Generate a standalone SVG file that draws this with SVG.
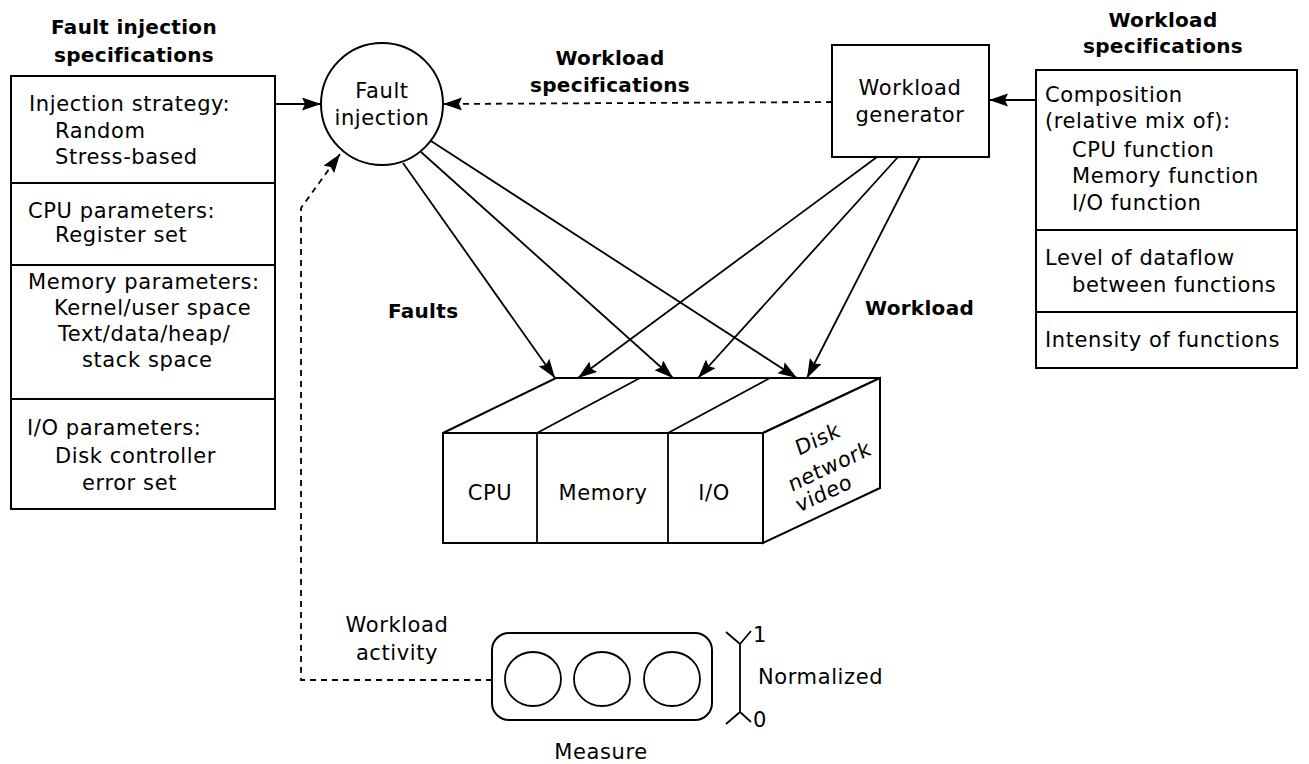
<svg xmlns="http://www.w3.org/2000/svg" width="1309" height="764" viewBox="0 0 1309 764">
<defs>
<style>
text{font-family:"DejaVu Sans","Liberation Sans",sans-serif;font-size:21px;letter-spacing:0.6px;fill:#000}
.b{font-weight:bold;font-size:20px;letter-spacing:0.3px}
.m{text-anchor:middle}
.box{fill:#fff;stroke:#000;stroke-width:2}
.ln{fill:none;stroke:#000;stroke-width:1.8}
.dash{fill:none;stroke:#000;stroke-width:1.8;stroke-dasharray:6,5}
</style>
<marker id="ah" markerUnits="userSpaceOnUse" markerWidth="20" markerHeight="14" refX="19" refY="6.5" orient="auto">
<path d="M0,0 L19,6.5 L0,13 L3,6.5 Z" fill="#000"/>
</marker>
</defs>
<rect width="1309" height="764" fill="#fff"/>

<g id="fault-spec">
<text class="b m" x="134" y="34">Fault injection</text>
<text class="b m" x="134" y="62">specifications</text>
<rect class="box" x="11" y="76" width="264" height="433"/>
<line class="ln" x1="11" y1="183" x2="275" y2="183" stroke-width="2"/>
<line class="ln" x1="11" y1="265" x2="275" y2="265" stroke-width="2"/>
<line class="ln" x1="11" y1="399" x2="275" y2="399" stroke-width="2"/>
<text x="29" y="111">Injection strategy:</text>
<text x="55" y="138">Random</text>
<text x="55" y="164">Stress-based</text>
<text x="28" y="218">CPU parameters:</text>
<text x="55" y="242">Register set</text>
<text x="28" y="289">Memory parameters:</text>
<text x="54" y="315">Kernel/user space</text>
<text x="58" y="341">Text/data/heap/</text>
<text x="82" y="367">stack space</text>
<text x="27" y="435">I/O parameters:</text>
<text x="55" y="463">Disk controller</text>
<text x="82" y="490">error set</text>
</g>

<g id="fault-injection">
<circle cx="382" cy="104" r="61" fill="#fff" stroke="#000" stroke-width="2"/>
<text class="m" x="382" y="98">Fault</text>
<text class="m" x="382" y="125">injection</text>
</g>

<g id="workload-generator">
<rect class="box" x="832" y="45" width="157" height="112"/>
<text class="m" x="910" y="95">Workload</text>
<text class="m" x="910" y="122">generator</text>
</g>

<g id="workload-spec">
<text class="b m" x="1163" y="27">Workload</text>
<text class="b m" x="1163" y="53">specifications</text>
<rect class="box" x="1036" y="70" width="261" height="298"/>
<line class="ln" x1="1036" y1="230" x2="1297" y2="230" stroke-width="2"/>
<line class="ln" x1="1036" y1="312" x2="1297" y2="312" stroke-width="2"/>
<text x="1045" y="102">Composition</text>
<text x="1045" y="128">(relative mix of):</text>
<text x="1072" y="157">CPU function</text>
<text x="1072" y="183">Memory function</text>
<text x="1072" y="210">I/O function</text>
<text x="1045" y="265">Level of dataflow</text>
<text x="1072" y="292">between functions</text>
<text x="1045" y="347">Intensity of functions</text>
</g>

<g id="system">
<polygon class="box" points="443,433 556,378 880,378 763,433"/>
<line class="ln" x1="537" y1="433" x2="640" y2="378"/>
<line class="ln" x1="668" y1="433" x2="770" y2="378"/>
<polygon class="box" points="763,433 880,378 880,488 763,543"/>
<rect class="box" x="443" y="433" width="320" height="110"/>
<line class="ln" x1="537" y1="433" x2="537" y2="543"/>
<line class="ln" x1="668" y1="433" x2="668" y2="543"/>
<text class="m" x="490" y="500">CPU</text>
<text class="m" x="603" y="500">Memory</text>
<text class="m" x="714" y="500">I/O</text>
<text class="m" transform="translate(820,446) rotate(-25) skewX(-6)">Disk</text>
<text class="m" transform="translate(832,473) rotate(-25) skewX(-6)">network</text>
<text class="m" transform="translate(826,500) rotate(-25) skewX(-6)">video</text>
</g>

<g id="measure">
<rect x="492" y="633" width="220" height="87" rx="17" fill="#fff" stroke="#000" stroke-width="2"/>
<ellipse cx="533" cy="679" rx="28" ry="27" class="ln"/>
<ellipse cx="602" cy="679" rx="28" ry="27" class="ln"/>
<ellipse cx="672" cy="679" rx="28" ry="27" class="ln"/>
<path class="ln" d="M740,644 V712 M726,632 L740,644 L751,631 M726,724 L740,712 L751,722"/>
<text x="753" y="642" font-size="19">1</text>
<text x="753" y="727" font-size="19">0</text>
<text x="758" y="684">Normalized</text>
<text class="m" x="601" y="759">Measure</text>
</g>

<g id="connectors">
<line class="ln" x1="275" y1="104" x2="321" y2="104" marker-end="url(#ah)"/>
<line class="dash" x1="832" y1="102" x2="443" y2="104" marker-end="url(#ah)"/>
<line class="ln" x1="1036" y1="100" x2="989" y2="100" marker-end="url(#ah)"/>
<line class="ln" x1="403" y1="163" x2="555" y2="378" marker-end="url(#ah)"/>
<line class="ln" x1="421" y1="152" x2="673" y2="378" marker-end="url(#ah)"/>
<line class="ln" x1="431" y1="141" x2="797" y2="378" marker-end="url(#ah)"/>
<line class="ln" x1="877" y1="157" x2="578" y2="378" marker-end="url(#ah)"/>
<line class="ln" x1="898" y1="157" x2="698" y2="378" marker-end="url(#ah)"/>
<line class="ln" x1="920" y1="157" x2="807" y2="378" marker-end="url(#ah)"/>
<path class="dash" d="M492,680 H301 V208 L340,154" marker-end="url(#ah)"/>
<text class="b m" x="610" y="65">Workload</text>
<text class="b m" x="610" y="92">specifications</text>
<text class="b" x="388" y="318">Faults</text>
<text class="b" x="865" y="315" font-size="21">Workload</text>
<text class="m" x="397" y="632">Workload</text>
<text class="m" x="397" y="660">activity</text>
</g>
</svg>
